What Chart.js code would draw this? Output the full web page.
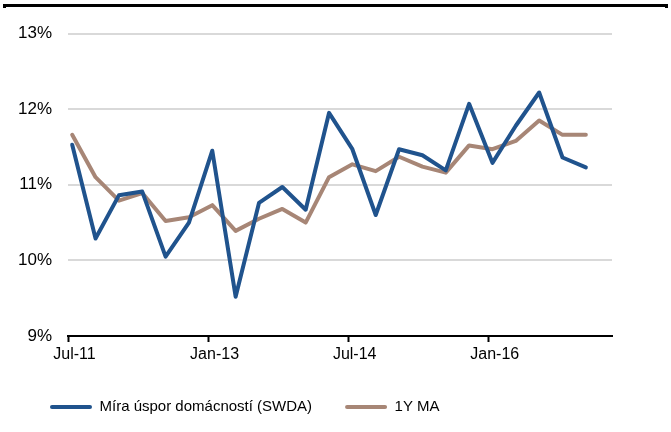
<!DOCTYPE html>
<html>
<head>
<meta charset="utf-8">
<script src="https://cdn.jsdelivr.net/npm/chart.js@4"></script>
<style>
  body { margin: 0; background: #fff; }
  #wrap { position: relative; width: 671px; height: 432px; }
  .bar { position: absolute; background: #000; }
</style>
</head>
<body>
<div id="wrap">
  <div class="bar" style="left:3px;top:4px;width:665px;height:3px"></div>
  <div class="bar" style="left:3px;top:7px;width:3px;height:1px"></div>
  <div class="bar" style="left:665px;top:7px;width:3px;height:1px"></div>
  <canvas id="chart" width="671" height="432"></canvas>
</div>
<script>
// quarterly, Q3 2011 .. Q1 2017
const quarters = [
    'Q3 2011', 'Q4 2011', 'Q1 2012', 'Q2 2012', 'Q3 2012', 'Q4 2012',
    'Q1 2013', 'Q2 2013', 'Q3 2013', 'Q4 2013', 'Q1 2014', 'Q2 2014',
    'Q3 2014', 'Q4 2014', 'Q1 2015', 'Q2 2015', 'Q3 2015', 'Q4 2015',
    'Q1 2016', 'Q2 2016', 'Q3 2016', 'Q4 2016', 'Q1 2017'
];
const savingsRate = [
    11.53, 10.29, 10.86, 10.91, 10.05, 10.50, 11.45, 9.52, 10.76, 10.97, 10.67, 11.95,
    11.47, 10.60, 11.47, 11.39, 11.19, 12.07, 11.29, 11.78, 12.22, 11.36, 11.23
];
const movingAvg = [
    11.66, 11.10, 10.79, 10.89, 10.52, 10.57, 10.73, 10.39, 10.55, 10.68, 10.50, 11.10,
    11.27, 11.18, 11.37, 11.24, 11.16, 11.52, 11.47, 11.58, 11.85, 11.66, 11.66
];
const tickLabels = ['Jul-11', 'Jan-13', 'Jul-14', 'Jan-16'];
const tickIndex = [0, 6, 12, 18];

const seriesNames = ['Míra úspor domácností (SWDA)', '1Y MA'];
const seriesColors = ['#20538d', '#a78676'];

// date axis in the original: tick sits a bit before the first quarter point
const tickShift = -0.18;

function toPoints(values) {
    return values.map((v, i) => ({ x: i, y: v, q: quarters[i] }));
}

const font = 'Liberation Sans, Arial, sans-serif';

new Chart(document.getElementById('chart'), {
    type: 'line',
    data: {
        datasets: [
            {
                label: seriesNames[0],
                data: toPoints(savingsRate),
                borderColor: seriesColors[0],
                backgroundColor: seriesColors[0],
                borderWidth: 4,
                pointRadius: 0,
                tension: 0,
                borderCapStyle: 'round',
                borderJoinStyle: 'round'
            },
            {
                label: seriesNames[1],
                data: toPoints(movingAvg),
                borderColor: seriesColors[1],
                backgroundColor: seriesColors[1],
                borderWidth: 4,
                pointRadius: 0,
                tension: 0,
                borderCapStyle: 'round',
                borderJoinStyle: 'round'
            }
        ]
    },
    options: {
        responsive: false,
        animation: false,
        devicePixelRatio: 1,
        layout: {
            padding: { left: 17, right: 59, top: 33.5, bottom: 7.5 }
        },
        plugins: {
            tooltip: { enabled: false },
            legend: {
                position: 'bottom',
                align: 'start',
                labels: {
                    boxWidth: 42,
                    boxHeight: 4,
                    padding: 33,
                    color: '#000',
                    font: { family: font, size: 15 },
                    useBorderRadius: true,
                    borderRadius: 2,
                    generateLabels: chart =>
                        Chart.defaults.plugins.legend.labels.generateLabels(chart).map(l => ({
                            ...l, lineWidth: 0, fillStyle: l.strokeStyle
                        }))
                }
            }
        },
        scales: {
            x: {
                type: 'linear',
                min: tickShift,
                max: 23.12,
                afterBuildTicks: scale => {
                    scale.ticks = tickIndex.map(i => ({ value: i + tickShift }));
                },
                afterFit: scale => { scale.height = 30.5; },
                ticks: {
                    callback: (v, i) => tickLabels[i],
                    color: '#000',
                    font: { family: font, size: 16 },
                    padding: 3,
                    labelOffset: 6.5,
                    maxRotation: 0,
                    autoSkip: false
                },
                grid: {
                    drawOnChartArea: false,
                    drawTicks: true,
                    tickLength: 6,
                    tickWidth: 2,
                    tickColor: '#000'
                },
                border: { display: true, color: '#000', width: 2 }
            },
            y: {
                min: 9,
                max: 13,
                afterFit: scale => { scale.width = 51; },
                ticks: {
                    stepSize: 1,
                    callback: v => v + '%',
                    color: '#000',
                    font: { family: font, size: 17 },
                    padding: 16
                },
                grid: {
                    color: '#d9d9d9',
                    lineWidth: 2,
                    drawTicks: false
                },
                border: { display: false }
            }
        }
    }
});
</script>
</body>
</html>
